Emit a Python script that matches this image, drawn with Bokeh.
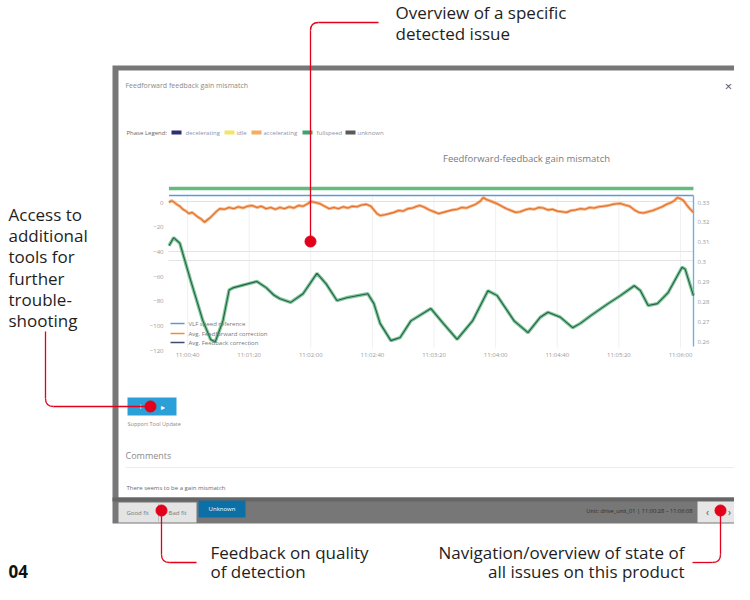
import numpy as np
from bokeh.plotting import figure
from bokeh.models import Range1d
from bokeh.core.properties import value
from bokeh.embed import file_html
from bokeh.resources import INLINE

# ---------------- data ----------------
# time in seconds after 11:00:00
green_t = [28, 31, 35, 42, 50, 55, 58, 63, 67, 70, 76, 85, 91, 96, 100, 107, 115, 124, 130, 137,
           144, 157, 161, 165, 172, 178, 185, 198, 206, 215, 225, 235, 241, 252, 261, 269, 274, 282,
           290, 295, 302, 313, 321, 330, 334, 339, 345, 352, 361, 363, 368.4]
green_v = [-35, -28.5, -33, -63, -96, -111, -113, -96, -71, -69, -67, -64, -69, -75, -78, -81, -74, -57.5, -66, -79.5,
           -77, -74, -82, -98, -112, -109.5, -96, -86, -98, -111, -96, -71.5, -75.5, -96, -105.5, -93, -89, -93,
           -101.5, -98, -91.5, -82, -75.5, -67.5, -71.5, -83.5, -82, -73, -52.5, -54, -75.5]

orange_t = [28, 29.5, 31, 33, 35, 37, 39, 41, 43, 45, 47, 49, 51, 53, 55, 57, 59, 61, 64, 67, 70, 73, 76, 79,
            82, 85, 88, 91, 94, 97, 100, 103, 106, 109, 112, 115, 118, 120, 123, 126, 129, 132, 135, 138,
            141, 144, 147, 150, 153, 156, 159, 161, 163, 165, 168, 171, 174, 177, 180, 183, 186, 189, 191,
            194, 197, 200, 203, 206, 209, 212, 215, 218, 221, 224, 227, 230, 232, 234, 237, 239, 241, 244,
            247, 250, 253, 256, 259, 262, 265, 268, 271, 274, 277, 280, 283, 286, 289, 292, 295, 298, 301,
            304, 307, 310, 313, 316, 319, 321, 324, 327, 330, 333, 336, 339, 342, 345, 348, 351, 354, 356,
            358, 360, 362, 364, 366, 368.4]
orange_v = [0, 1.5, 0.5, -1.5, -3, -5.5, -7, -9, -8, -10, -12, -13.5, -16, -14, -12, -9.5, -7, -5, -5.5, -4, -5, -3.5, -4.5, -3,
            -2.5, -4, -3, -5, -4, -5.5, -4, -5, -3.5, -4.5, -2.5, -3, -1, 0.8, 0, -1, -3, -5, -4, -5,
            -3.5, -4.5, -3, -3.5, -2, -1.5, -3, -6, -9, -10.5, -10, -9, -8, -6.5, -7, -5, -4.5, -3, -2.5,
            -4, -6, -7.5, -9, -8, -7, -6, -5.5, -4, -4.5, -3, -1.5, 1, 4, 2.5, 1, 0, -1, -3,
            -5, -6.5, -8, -7.5, -6, -5, -5.5, -4, -4.5, -6, -5.5, -7, -7.5, -8, -6.5, -6, -5, -5.5, -4,
            -4.5, -3.5, -3, -2.5, -1.5, -1, -0.8, -2, -3, -6, -8, -8.5, -7.5, -6.5, -5, -3.5, -1.5, 0, 1.5,
            4, 3, 1.5, -2, -5, -8]

vlf_t = [28, 368.4]
vlf_v = [0.3335, 0.3335]

phase_start = [28]
phase_end = [368.4]
phase_name = ["fullspeed"]

x_tick_t = [40, 80, 120, 160, 200, 240, 280, 320, 360]
x_tick_labels = ["11:00:40", "11:01:20", "11:02:00", "11:02:40", "11:03:20",
                 "11:04:00", "11:04:40", "11:05:20", "11:06:00"]
left_ticks = [0, -20, -40, -60, -80, -100, -120]
left_tick_labels = ["0", "\u221220", "\u221240", "\u221260", "\u221280", "\u2212100", "\u2212120"]
right_ticks = [0.33, 0.32, 0.31, 0.30, 0.29, 0.28, 0.27, 0.26]
right_tick_labels = ["0.33", "0.32", "0.31", "0.3", "0.29", "0.28", "0.27", "0.26"]

series_names = ["VLF speed reference", "Avg. Feedforward correction", "Avg. Feedback correction"]
series_colors = ["#5b9bd5", "#f08a3e", "#3d4b6e"]
phase_labels = ["decelerating", "idle", "accelerating", "fullspeed", "unknown"]
phase_colors = ["#2c2f70", "#f3e46a", "#f5ad62", "#3fa36c", "#5a5a5a"]

# ---------------- layout constants (reference pixel space) ----------------
W, H = 734, 584
VX0, VX1 = 0, 734      # visible reference x
VY0, VY1 = 0, 584      # visible reference y
CX0, CX1 = 168, 693    # chart plot area
TICK_A_PX, TICK_B_PX = 187, 680   # positions of first/last time tick
LEFT_A = (202, 0.0); LEFT_B = (350, -120.0)
RIGHT_A = (202, 0.33); RIGHT_B = (341, 0.26)
RED = "#e2001a"
FONT = "Open Sans"
ANN_SIZE = 17


def span(pa, va, pb, vb, lo, hi):
    k = (vb - va) / (pb - pa)
    return va + (lo - pa) * k, va + (hi - pa) * k


t_lo, t_hi = span(TICK_A_PX, x_tick_t[0], TICK_B_PX, x_tick_t[-1], VX0, VX1)
l_bot, l_top = span(LEFT_A[0], LEFT_A[1], LEFT_B[0], LEFT_B[1], VY1, VY0)
r_bot, r_top = span(RIGHT_A[0], RIGHT_A[1], RIGHT_B[0], RIGHT_B[1], VY1, VY0)

p = figure(width=W, height=H, x_range=Range1d(VX0, VX1), y_range=Range1d(VY1, VY0),
           x_axis_type=None, y_axis_type=None, min_border=0,
           toolbar_location=None, output_backend="svg")
p.extra_x_ranges = {"time": Range1d(t_lo, t_hi)}
p.extra_y_ranges = {"left": Range1d(l_bot, l_top), "right": Range1d(r_bot, r_top)}
p.grid.visible = False
p.outline_line_color = None
p.background_fill_color = "white"
p.border_fill_color = "white"


def txt(x, y, s, size, color, align="left", baseline="middle", style="normal", font=FONT, **kw):
    p.text(x=[x], y=[y], text=[s], text_font=value(font), text_font_size=f"{size}px",
           text_color=color, text_align=align, text_baseline=baseline, text_font_style=style, **kw)


# ---------------- modal window ----------------
p.quad(left=[112], right=[760], top=[65], bottom=[523], fill_color="#777777", line_color=None)
p.quad(left=[118], right=[746], top=[70], bottom=[497], fill_color="white", line_color=None)
p.quad(left=[112], right=[760], top=[497], bottom=[501], fill_color="#666666", line_color=None)

txt(125, 85, "Feedforward feedback gain mismatch", 7, "#8a8a8a")
txt(728, 85, "\u00d7", 13, "#555555", align="center")

# phase legend
txt(126, 132, "Phase Legend:", 6, "#666666")
sw_x = [171, 224, 251, 302, 345]
lb_x = [185, 236, 263, 316, 357]
for sx, lx, lab, col in zip(sw_x, lb_x, phase_labels, phase_colors):
    p.quad(left=[sx], right=[sx + 10], top=[130], bottom=[134], fill_color=col, line_color=None)
    txt(lx, 132, lab, 6, "#8a93ad")

txt(526, 158, "Feedforward-feedback gain mismatch", 9.5, "#7a7a7a", align="center")

# ---------------- chart ----------------
p.segment(x0=x_tick_t, x1=x_tick_t, y0=[196] * len(x_tick_t), y1=[348] * len(x_tick_t),
          x_range_name="time", line_color="#f1f1f1", line_width=1)
p.segment(x0=[CX0, CX0], x1=[CX1, CX1], y0=[251, 260], y1=[251, 260], line_color="#e4e4e4", line_width=1)
p.segment(x0=[CX0], x1=[CX1], y0=[201], y1=[201], line_color="#e2e2e2", line_width=1)

# phase strip
p.segment(x0=phase_start, x1=phase_end, y0=[188], y1=[188], x_range_name="time",
          line_color="#63bb80", line_width=3.5)
# VLF reference
p.line(vlf_t, vlf_v, x_range_name="time", y_range_name="right", line_color=series_colors[0], line_width=1.6)
# right axis line
p.segment(x0=[CX1], x1=[CX1], y0=[195], y1=[346], line_color="#74aee0", line_width=1.4)

# feedforward correction
p.line(orange_t, orange_v, x_range_name="time", y_range_name="left", line_color="#f39a55",
       line_width=3, line_alpha=0.75)
p.line(orange_t, orange_v, x_range_name="time", y_range_name="left", line_color="#e2702e",
       line_width=1.1)
# feedback correction
p.line(green_t, green_v, x_range_name="time", y_range_name="left", line_color="#6cc48b",
       line_width=3.4, line_alpha=0.9)
p.line(green_t, green_v, x_range_name="time", y_range_name="left", line_color="#2f5a4e",
       line_width=1.1)

# tick labels
p.text(x=x_tick_t, y=[354] * len(x_tick_t), text=x_tick_labels, x_range_name="time",
       text_font=value(FONT), text_font_size="6px", text_color="#9a9a9a",
       text_align="center", text_baseline="middle")
p.text(x=[163] * len(left_ticks), y=left_ticks, text=left_tick_labels, y_range_name="left",
       text_font=value(FONT), text_font_size="6px", text_color="#9a9a9a",
       text_align="right", text_baseline="middle")
p.text(x=[697] * len(right_ticks), y=right_ticks, text=right_tick_labels, y_range_name="right",
       text_font=value(FONT), text_font_size="6px", text_color="#9a9a9a",
       text_align="left", text_baseline="middle")

# chart legend
leg_y = [323, 333, 342]
for yy, name, col in zip(leg_y, series_names, series_colors):
    p.segment(x0=[170], x1=[184], y0=[yy], y1=[yy], line_color=col, line_width=1.6)
    txt(188, yy, name, 6, "#777777")

# ---------------- lower part of modal ----------------
p.quad(left=[127], right=[176], top=[397], bottom=[415], fill_color="#2a9fd8", line_color=None)
txt(140, 406, "+", 9, "white", align="center")
txt(162, 406, "\u25b8", 8, "white", align="center")
txt(127, 423, "Support Tool Update", 5.5, "#8a8a8a")

txt(125, 455, "Comments", 9, "#8c8c8c")
p.segment(x0=[125], x1=[735], y0=[467], y1=[467], line_color="#ececec", line_width=1)
txt(126, 487, "There seems to be a gain mismatch", 6, "#6a6a6a")

# bottom bar
p.quad(left=[118], right=[196], top=[502], bottom=[522], fill_color="#e4e4e4", line_color=None)
p.segment(x0=[158], x1=[158], y0=[503], y1=[521], line_color="#bdbdbd", line_width=1)
txt(126, 512, "Good fit", 6, "#7a7a7a")
txt(168, 512, "Bad fit", 6, "#7a7a7a")
p.quad(left=[198], right=[245], top=[500], bottom=[517], fill_color="#0c6fa6", line_color=None)
txt(221.5, 508.5, "Unknown", 6, "white", align="center")
txt(692, 510, "Unit: drive_unit_01 | 11:00:28 \u2013 11:06:08", 5.7, "#2e2e2e", align="right")
p.quad(left=[697], right=[760], top=[501], bottom=[522], fill_color="#e6e6e6", line_color=None)
txt(707, 511, "\u2039", 10, "#555555", align="center")
txt(729, 511, "\u203a", 10, "#555555", align="center")

# ---------------- red annotation callouts ----------------
LW = 1.3
BOT_CORNER = 562
# top
p.segment(x0=[378, 310], y0=[22, 30], x1=[318, 310], y1=[22, 241], line_color=RED, line_width=LW)
p.quadratic(x0=[318], y0=[22], x1=[310], y1=[30], cx=[310], cy=[22], line_color=RED, line_width=LW)
# left
p.segment(x0=[45, 53], y0=[331, 406], x1=[45, 150], y1=[398, 406], line_color=RED, line_width=LW)
p.quadratic(x0=[45], y0=[398], x1=[53], y1=[406], cx=[45], cy=[406], line_color=RED, line_width=LW)
# bottom left
p.segment(x0=[161, 169], y0=[510, BOT_CORNER], x1=[161, 196], y1=[BOT_CORNER - 8, BOT_CORNER],
          line_color=RED, line_width=LW)
p.quadratic(x0=[161], y0=[BOT_CORNER - 8], x1=[169], y1=[BOT_CORNER], cx=[161], cy=[BOT_CORNER],
            line_color=RED, line_width=LW)
# bottom right
p.segment(x0=[720, 712], y0=[510, BOT_CORNER], x1=[720, 692], y1=[BOT_CORNER - 8, BOT_CORNER],
          line_color=RED, line_width=LW)
p.quadratic(x0=[720], y0=[BOT_CORNER - 8], x1=[712], y1=[BOT_CORNER], cx=[720], cy=[BOT_CORNER],
            line_color=RED, line_width=LW)
# dots
p.scatter(x=[310, 150, 161, 720], y=[241, 406, 510, 510], marker="circle", size=11,
          fill_color=RED, line_color=RED)

# annotation texts
ANN = "#1e1e1e"
txt(395, 12, "Overview of a specific", ANN_SIZE, ANN)
txt(395, 33, "detected issue", ANN_SIZE, ANN)
for i, s in enumerate(["Access to", "additional", "tools for", "further", "trouble-", "shooting"]):
    txt(8, 214 + i * 21.2, s, ANN_SIZE, ANN)
txt(210, 552, "Feedback on quality", ANN_SIZE, ANN)
txt(210, 571, "of detection", ANN_SIZE, ANN)
txt(684, 552, "Navigation/overview of state of", ANN_SIZE, ANN, align="right")
txt(684, 571, "all issues on this product", ANN_SIZE, ANN, align="right")
txt(8, 571, "04", ANN_SIZE, "#111111", style="bold")

open("out.html", "w").write(file_html(p, INLINE))
